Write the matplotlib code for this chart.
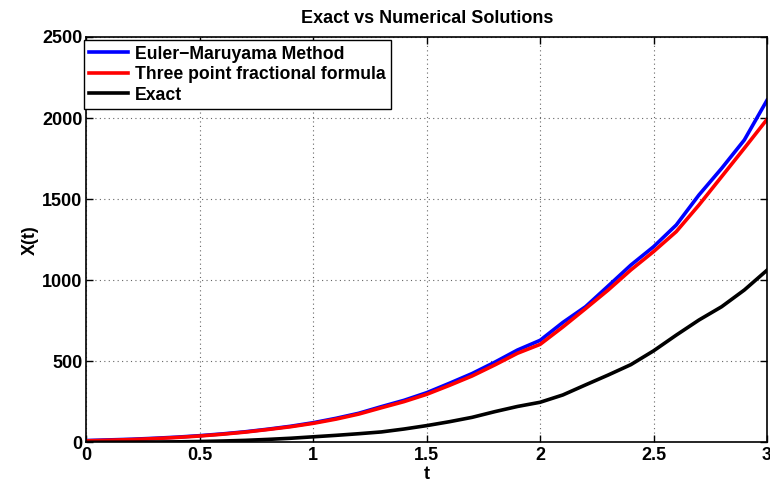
import matplotlib
matplotlib.use("Agg")
import matplotlib.pyplot as plt

t = [0.0, 0.1, 0.2, 0.3, 0.4, 0.5, 0.6, 0.7, 0.8, 0.9, 1.0,
     1.1, 1.2, 1.3, 1.4, 1.5, 1.6, 1.7, 1.8, 1.9, 2.0,
     2.1, 2.2, 2.3, 2.4, 2.5, 2.6, 2.7, 2.8, 2.9, 3.0]

euler = [12, 16, 20, 26, 33, 42, 53, 66, 82, 100, 122,
         149, 180, 221, 260, 307, 365, 425, 495, 570, 630,
         740, 837, 965, 1094, 1207, 1341, 1526, 1690, 1865, 2110]

three_point = [10, 14, 18, 24, 31, 40, 51, 64, 80, 97, 118,
               144, 175, 214, 252, 297, 352, 410, 478, 550, 605,
               712, 825, 940, 1064, 1177, 1300, 1464, 1639, 1814, 1992]

exact = [1, 1.5, 2, 3, 4, 6, 9, 13, 19, 26, 35,
         44, 54, 65, 83, 104, 128, 155, 190, 222, 248,
         293, 355, 416, 480, 565, 662, 755, 837, 940, 1062]

series_labels = ["Euler\u2212Maruyama Method", "Three point fractional formula", "Exact"]
xticks = [0, 0.5, 1, 1.5, 2, 2.5, 3]
xtick_labels = ["0", "0.5", "1", "1.5", "2", "2.5", "3"]
yticks = [0, 500, 1000, 1500, 2000, 2500]

plt.rcParams['font.family'] = ['Liberation Sans', 'DejaVu Sans']
plt.rcParams['font.weight'] = 'bold'

fig = plt.figure(figsize=(7.7, 4.83), dpi=100)
ax = fig.add_axes([0.1123, 0.0839, 0.8838, 0.8395])

ax.plot(t, euler, color=(0, 0, 1), lw=2.6, label=series_labels[0])
ax.plot(t, three_point, color=(1, 0, 0), lw=2.6, label=series_labels[1])
ax.plot(t, exact, color='black', lw=2.6, label=series_labels[2])

ax.set_xlim(0, 3)
ax.set_ylim(0, 2500)
ax.set_xticks(xticks)
ax.set_xticklabels(xtick_labels)
ax.set_yticks(yticks)
ax.tick_params(direction='in', length=5, width=1, top=True, right=True,
               labelsize=13, pad=3)
for lbl in ax.get_xticklabels() + ax.get_yticklabels():
    lbl.set_fontweight('bold')
ax.grid(True, linestyle=(0, (1, 3)), color='#666666', linewidth=0.8)
for s in ax.spines.values():
    s.set_linewidth(1.2)

ax.set_title("Exact vs Numerical Solutions", fontsize=13, fontweight='bold', pad=10)
ax.set_xlabel("t", fontsize=13, fontweight='bold', labelpad=1.5)
ax.set_ylabel("X(t)", fontsize=13, fontweight='bold', labelpad=2.5)

leg = ax.legend(loc='upper left', bbox_to_anchor=(-0.004, 0.992), fontsize=12.7,
                frameon=True, fancybox=False, edgecolor='black', framealpha=1,
                borderpad=0.3, labelspacing=0.2, handlelength=2.2,
                handletextpad=0.4, borderaxespad=0)
leg.get_frame().set_linewidth(1.0)
for txt in leg.get_texts():
    txt.set_fontweight('bold')

fig.savefig("out.png", dpi=100)
